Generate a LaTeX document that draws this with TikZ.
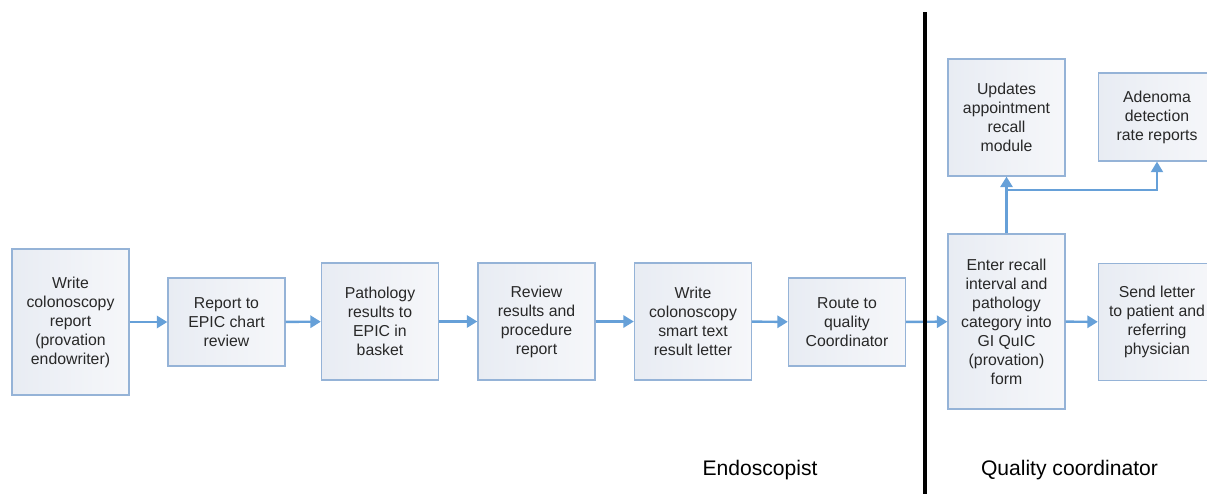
\documentclass[tikz,border=0pt]{standalone}
\usepackage{fontspec}
\setmainfont{Liberation Sans}
\usetikzlibrary{arrows.meta, positioning}
\definecolor{boxline}{RGB}{149,179,215}
\definecolor{boxfillL}{RGB}{232,236,243}
\definecolor{boxfillR}{RGB}{246,247,250}
\definecolor{flowblue}{RGB}{102,160,216}
\definecolor{textgray}{RGB}{40,40,40}

\begin{document}
\begin{tikzpicture}[x=0.02cm, y=-0.02cm,
    % Node styles
    task/.style={
        rectangle, draw=boxline, line width=0.8pt,
        left color=boxfillL, right color=boxfillR,
        minimum width=2.34cm, align=center, inner sep=2pt,
        text=textgray, font=\fontsize{9}{10.8}\selectfont,
      },
    short task/.style={task, minimum height=1.76cm},
    mid task/.style={task, minimum height=2.34cm},
    % Connector style
    flow/.style={
        draw=flowblue, line width=1.4pt,
        -{Triangle[length=6pt, width=7pt]},
      },
    lane label/.style={font=\fontsize{12}{14}\selectfont, anchor=base},
  ]
  \useasboundingbox (0,0) rectangle (1207,494);

  % --- Endoscopist steps ---
  \node[task, minimum height=2.92cm] (write) at (70.5,322)
    {Write\\colonoscopy\\report\\(provation\\endowriter)};
  \node[short task] (epic) at (226.5,322) {Report to\\EPIC chart\\review};
  \node[mid task] (path) at (380,321.5) {Pathology\\results to\\EPIC in\\basket};
  \node[mid task] (review) at (536.5,321.5) {Review\\results and\\procedure\\report};
  \node[mid task] (letter) at (693,321.5) {Write\\colonoscopy\\smart text\\result letter};
  \node[short task] (route) at (847,322) {Route to\\quality\\Coordinator};

  % --- Quality coordinator steps ---
  \node[task, minimum height=3.5cm] (enter) at (1006.5,321.5)
    {Enter recall\\interval and\\pathology\\category into\\GI QuIC\\(provation)\\form};
  \node[mid task] (send) at (1157,322) {Send letter\\to patient and\\referring\\physician};
  \node[mid task] (recall) at (1006.5,117.5) {Updates\\appointment\\recall\\module};
  \node[short task] (adr) at (1157,117) {Adenoma\\detection\\rate reports};

  % --- Flow ---
  \draw[flow] (write) -- (epic);
  \draw[flow] (epic) -- (path);
  \draw[flow] (path) -- (review);
  \draw[flow] (review) -- (letter);
  \draw[flow] (letter) -- (route);
  \draw[flow] (route) -- (enter);
  \draw[flow] (enter) -- (send);
  \draw[flow] (enter) -- (recall);
  \coordinate (split) at (1006.5,190);
  \draw[flow, line width=0.8pt] (split) -| (adr);

  % --- Lane divider and labels ---
  \coordinate (sepTop) at (925,12);
  \coordinate (sepBot) at (925,494);
  \draw[line width=2.2pt] (sepTop) -- (sepBot);
  \node[lane label] (endo) at (760,475) {Endoscopist};
  \node[lane label] (quality) at (1069.5,475) {Quality coordinator};
\end{tikzpicture}
\end{document}
